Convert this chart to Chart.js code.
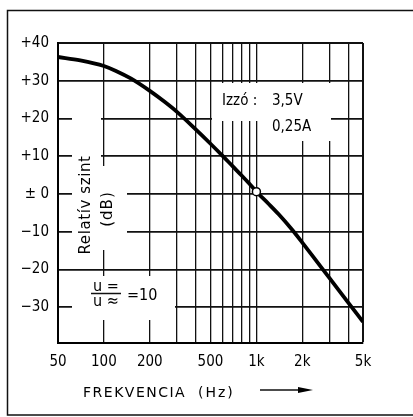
<!DOCTYPE html>
<html>
<head>
<meta charset="utf-8">
<title>Relatív szint – frekvencia</title>
<script src="https://cdn.jsdelivr.net/npm/chart.js@4.4.1/dist/chart.umd.min.js"></script>
<style>
  html, body { margin: 0; padding: 0; background: #fff; }
  #wrap { position: relative; width: 413px; height: 417px; }
</style>
</head>
<body>
<div id="wrap"><canvas id="levelChart"></canvas></div>
<script>
// level vs. frequency, lamp stabilised stage
const freqHz = [50, 70, 100, 120, 150, 200, 250, 300, 400, 500, 600, 700, 800, 900, 1000, 1200, 1400, 1700, 2000, 2500, 3000, 4000, 5000];
const levelDb = [36.3, 35.4, 33.9, 32.6, 30.6, 27.3, 24.4, 21.8, 17.1, 13.3, 10.1, 7.3, 4.9, 2.7, 0.6, -2.6, -5.4, -9.3, -12.9, -18.0, -22.2, -28.8, -33.9];

// reference point (open circle)
const refFreq = [1000];
const refLevel = [0.6];

const xGridHz = [50, 100, 200, 300, 400, 500, 600, 700, 800, 900, 1000, 2000, 3000, 4000, 5000];
const xTickHz = [50, 100, 200, 500, 1000, 2000, 5000];
const xTickText = ['50', '100', '200', '500', '1k', '2k', '5k'];
const yTickDb = [-30, -20, -10, 0, 10, 20, 30, 40];
const yTickText = ['−30', '−20', '−10', '± 0', '+10', '+20', '+30', '+40'];

const FONT = "'DejaVu Sans Condensed', 'DejaVu Sans', sans-serif";
const FONT_WIDE = "'DejaVu Sans', sans-serif";
Chart.defaults.font.family = FONT;
Chart.defaults.color = '#000';

// blank patches in the grid behind the annotations
const gridGaps = [
  [72, 85, 29, 181],   // y title
  [72, 166, 55, 84],   // (dB)
  [72, 276, 103, 44],  // ratio
  [212, 83, 128, 33],  // Izzó: 3,5V
  [212, 116, 119, 5],
  [262, 121, 69, 20]   // 0,25A
];

function txt(ctx, s, x, y, font, align, spacing) {
  ctx.font = font;
  ctx.textAlign = align || 'left';
  ctx.letterSpacing = spacing || '0px';
  ctx.fillText(s, x, y);
  ctx.letterSpacing = '0px';
}

const sheetPlugin = {
  id: 'sheet',
  beforeDatasetsDraw(chart) {
    const ctx = chart.ctx;
    ctx.save();
    ctx.fillStyle = '#fff';
    gridGaps.forEach(([x, y, w, h]) => ctx.fillRect(x, y, w, h));
    ctx.restore();
  },
  afterDraw(chart) {
    const ctx = chart.ctx;
    ctx.save();
    ctx.fillStyle = '#000';
    ctx.strokeStyle = '#111';
    ctx.textBaseline = 'alphabetic';

    // outer frame
    ctx.lineWidth = 1.5;
    ctx.strokeRect(7.5, 10.5, 420, 404.5);

    // axis title, rotated
    ctx.save();
    ctx.translate(86, 205);
    ctx.rotate(-Math.PI / 2);
    ctx.textBaseline = 'middle';
    txt(ctx, 'Relatív szint', 0, 0, '15px ' + FONT_WIDE, 'center', '0.6px');
    txt(ctx, '(dB)', -4, 22, '15px ' + FONT_WIDE, 'center', '1px');
    ctx.restore();

    // lamp data
    txt(ctx, 'Izzó :', 222, 105, '15px ' + FONT);
    txt(ctx, '3,5V', 272, 105, '15px ' + FONT);
    txt(ctx, '0,25A', 272, 131, '15px ' + FONT);

    // U= / U≈ = 10
    txt(ctx, 'u =', 106, 291, '16px ' + FONT, 'center');
    txt(ctx, 'u ≈', 106, 306, '16px ' + FONT, 'center');
    ctx.lineWidth = 1.5;
    ctx.beginPath();
    ctx.moveTo(91, 293.5);
    ctx.lineTo(121, 293.5);
    ctx.stroke();
    txt(ctx, '=10', 127, 300, '16px ' + FONT);

    // x title with arrow
    txt(ctx, 'FREKVENCIA', 83, 397, '14px ' + FONT_WIDE, 'left', '1.5px');
    txt(ctx, '(Hz)', 198, 397, '14px ' + FONT_WIDE, 'left', '2px');
    ctx.lineWidth = 1.3;
    ctx.beginPath();
    ctx.moveTo(260, 390);
    ctx.lineTo(302, 390);
    ctx.stroke();
    ctx.beginPath();
    ctx.moveTo(298, 387);
    ctx.lineTo(313, 390);
    ctx.lineTo(298, 393);
    ctx.closePath();
    ctx.fill();

    ctx.restore();
  }
};

new Chart(document.getElementById('levelChart'), {
  type: 'line',
  data: {
    datasets: [
      {
        data: refFreq.map((f, i) => ({ x: f, y: refLevel[i] })),
        showLine: false,
        pointRadius: 4,
        pointBackgroundColor: '#fff',
        pointBorderColor: '#000',
        pointBorderWidth: 1.5
      },
      {
        data: freqHz.map((f, i) => ({ x: f, y: levelDb[i] })),
        borderColor: '#000',
        borderWidth: 3.8,
        pointRadius: 0,
        cubicInterpolationMode: 'monotone',
        fill: false
      }
    ]
  },
  options: {
    responsive: true,
    maintainAspectRatio: false,
    animation: false,
    layout: { padding: { left: 0, top: 43, right: 50, bottom: 0 } },
    plugins: { legend: { display: false }, tooltip: { enabled: false } },
    scales: {
      x: {
        type: 'logarithmic',
        min: 50,
        max: 5000,
        afterBuildTicks: s => { s.ticks = xGridHz.map(v => ({ value: v })); },
        afterFit: s => { s.height = 74; },
        ticks: {
          autoSkip: false,
          maxRotation: 0,
          padding: 10,
          color: '#000',
          font: { size: 15 },
          callback: v => {
            const i = xTickHz.indexOf(v);
            return i < 0 ? '' : xTickText[i];
          }
        },
        grid: {
          drawTicks: false,
          color: '#111',
          lineWidth: c => (c.tick && c.tick.value === 5000 ? 2 : 1.3)
        },
        border: { color: '#000', width: 2 }
      },
      y: {
        min: -39.5,
        max: 40,
        afterBuildTicks: s => { s.ticks = yTickDb.map(v => ({ value: v })); },
        afterFit: s => { s.width = 58; },
        ticks: {
          padding: 9,
          color: '#000',
          font: { size: 15 },
          callback: v => yTickText[yTickDb.indexOf(v)]
        },
        grid: {
          drawTicks: false,
          color: '#111',
          lineWidth: c => (c.tick && c.tick.value === 40 ? 2 : 1.8)
        },
        border: { color: '#000', width: 2 }
      }
    }
  },
  plugins: [sheetPlugin]
});
</script>
</body>
</html>
